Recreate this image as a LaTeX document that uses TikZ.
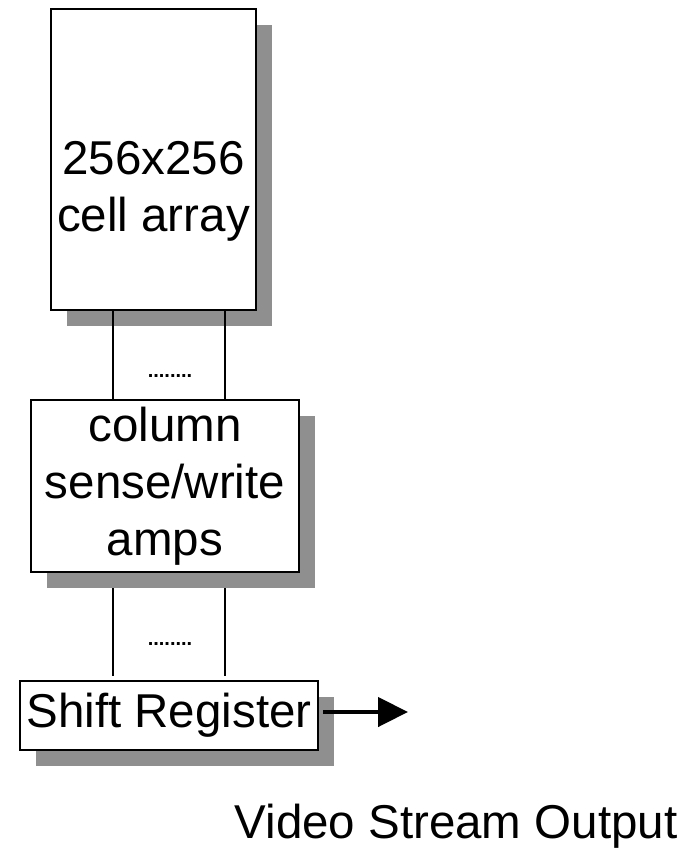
\documentclass[tikz,border=0pt]{standalone}
\usepackage{fontspec}
\setmainfont{Liberation Sans}
\usepackage{tikz}
\usetikzlibrary{positioning,shadows,arrows.meta}
\definecolor{shadowgray}{RGB}{143,143,143}

\begin{document}
\begin{tikzpicture}[x=1pt, y=-1pt,
		block/.style={rectangle, draw=black, line width=2pt, fill=white, inner sep=0pt, outer sep=0pt,
			drop shadow={shadow xshift=16pt, shadow yshift=-16pt, fill=shadowgray, opacity=1}},
		label/.style={inner sep=0pt, align=center, font=\fontsize{47.5}{57}\selectfont},
		dots/.style={inner sep=0pt, anchor=base, font=\fontsize{20}{24}\selectfont\bfseries},
		bus/.style={line width=1.5pt}]
		\useasboundingbox (0,0) rectangle (696,855);
		\node[block, minimum width=205pt, minimum height=301pt] (array) at (153.5,159.5) {};
		\node[label] (arraytext) at (153.5,191) {256x256\\cell array};
		\node[block, label, minimum width=268pt, minimum height=172pt] (amps) at (165,486) {column\\sense/write\\amps};
		\node[block, label, minimum width=298pt, minimum height=69pt] (shiftreg) at (169,715.5) {Shift Register};
		\node[dots] (dots1) at (170,377) {........};
		\node[dots] (dots2) at (170,645) {........};
		\node[label, anchor=base] (video) at (456,838) {Video Stream Output};
		\coordinate (lx) at (113,0);
		\coordinate (rx) at (225,0);
		\coordinate (out) at (408,712);

		\path (array.south -| lx) edge[bus] (amps.north -| lx);
		\path (array.south -| rx) edge[bus] (amps.north -| rx);
		\path (amps.south -| lx) edge[bus, shorten <=16pt, shorten >=5pt] (shiftreg.north -| lx);
		\path (amps.south -| rx) edge[bus, shorten <=16pt, shorten >=5pt] (shiftreg.north -| rx);
		\path (shiftreg.east |- out) edge[line width=4.5pt, shorten <=5pt, -{Triangle[length=30pt, width=29pt]}] (out);

	\end{tikzpicture}
\end{document}
